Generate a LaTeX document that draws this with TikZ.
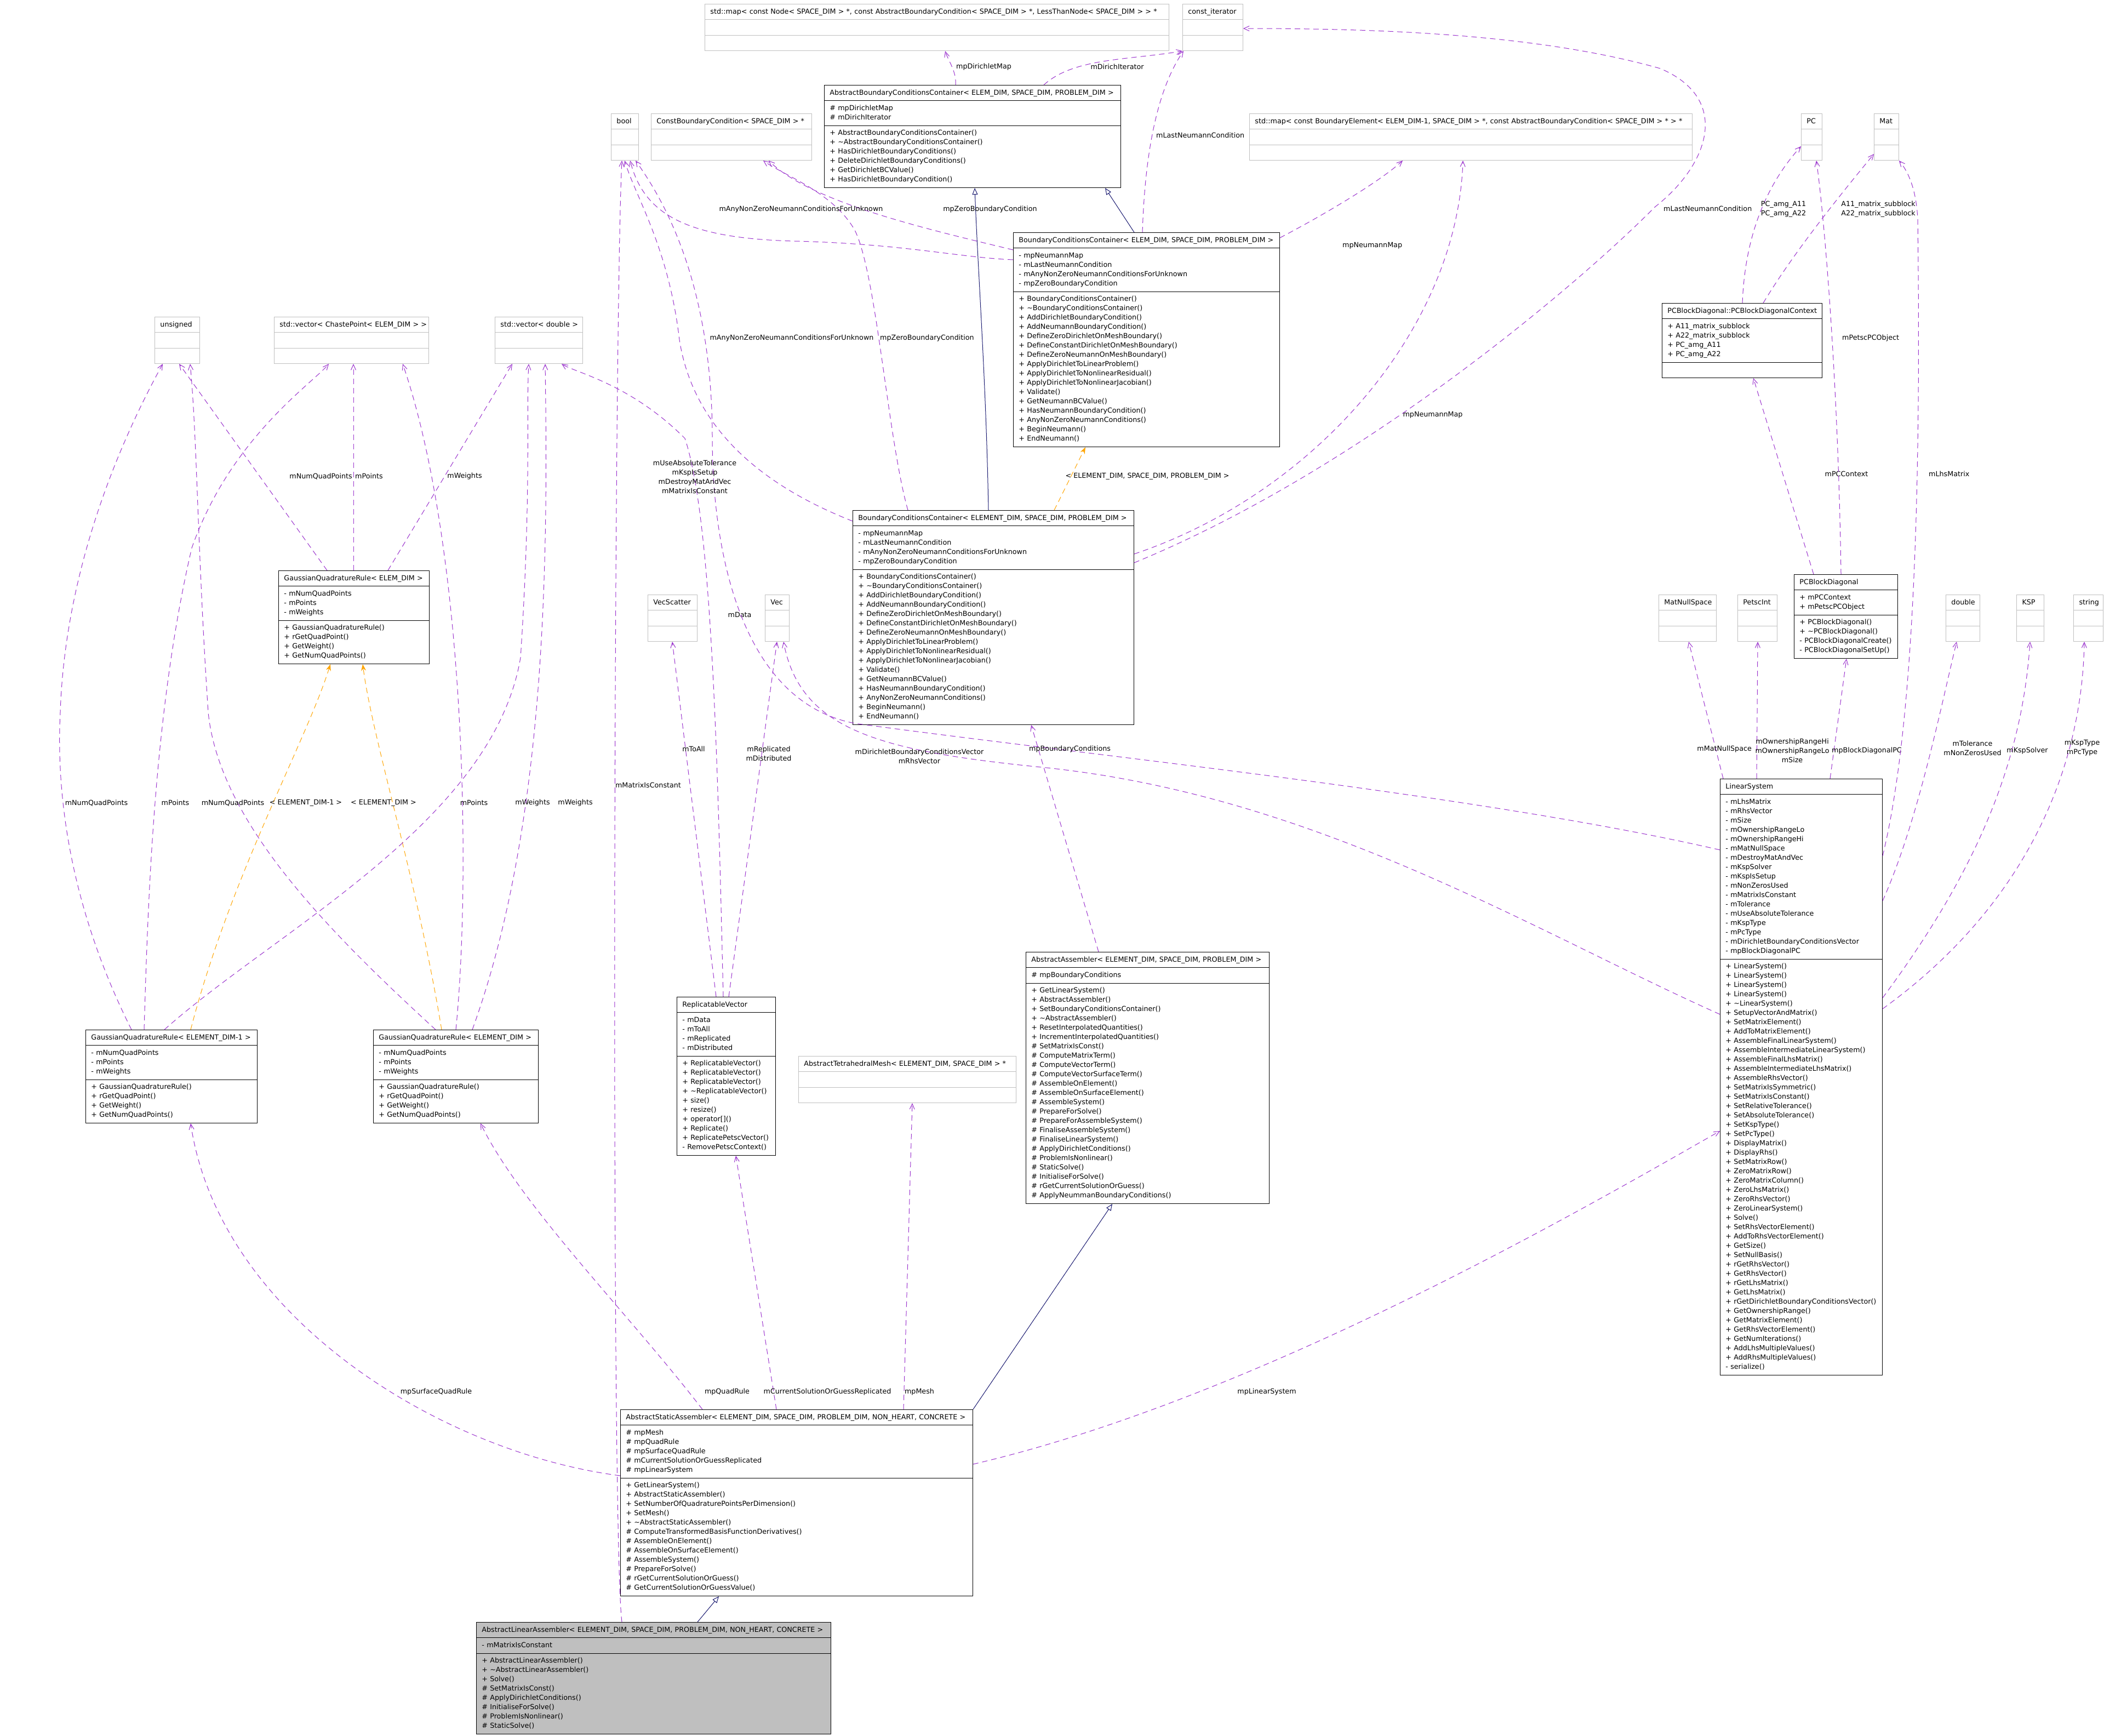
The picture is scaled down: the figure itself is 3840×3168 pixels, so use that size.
\documentclass[tikz,border=0pt]{standalone}
\usepackage{fontspec}
\setmainfont{DejaVu Sans}
\usetikzlibrary{shapes.multipart, arrows.meta, calc}
\definecolor{edgepurple}{HTML}{9A32CD}
\definecolor{inhblue}{HTML}{191970}
\definecolor{tmplorange}{HTML}{FFA500}
\definecolor{boxgray}{HTML}{BFBFBF}

\begin{document}
\begin{tikzpicture}[x=1pt, y=-1pt,
  cls/.style={rectangle split, rectangle split parts=3, draw, line width=0.9pt, fill=white,
    anchor=north west, inner xsep=10pt, inner ysep=5.25pt, align=left,
    font={\fontsize{12.7}{17}\selectfont}},
  ext/.style={cls, draw=boxgray},
  uses/.style={edgepurple, line width=1pt, dash pattern=on 10pt off 7pt,
    -{Straight Barb[length=10pt,width=9pt]}},
  inh/.style={inhblue, line width=1pt, -{Triangle[open,length=12pt,width=10pt]}},
  tmpl/.style={tmplorange, line width=1pt, dash pattern=on 10pt off 7pt,
    -{Stealth[length=12pt,width=9pt]}},
  lbl/.style={inner sep=0pt, align=center, font={\fontsize{12.7}{17}\selectfont}}]
\useasboundingbox (0,0) rectangle (3840,3168);
\fill[white] (0,0) rectangle (3840,3168);

% top row
\node[ext, text width=827pt] (stdmap) at (1286,7) {\centering\strut\mbox{std::map< const Node< SPACE\_DIM > *, const AbstractBoundaryCondition< SPACE\_DIM > *, LessThanNode< SPACE\_DIM > > *}\nodepart{two}\strut\nodepart{three}\strut};
\node[ext, text width=90pt] (constit) at (2158,7) {\centering\strut\mbox{const\_iterator}\nodepart{two}\strut\nodepart{three}\strut};
\node[cls, text width=521pt] (abcc) at (1504,155) {\centering\strut\mbox{AbstractBoundaryConditionsContainer< ELEM\_DIM, SPACE\_DIM, PROBLEM\_DIM >}
  \nodepart{two}\strut\# mpDirichletMap\\\# mDirichIterator\strut
  \nodepart{three}\strut+ AbstractBoundaryConditionsContainer()\\+ \textasciitilde AbstractBoundaryConditionsContainer()\\+ HasDirichletBoundaryConditions()\\+ DeleteDirichletBoundaryConditions()\\+ GetDirichletBCValue()\\+ HasDirichletBoundaryCondition()\strut};
\node[ext, text width=273pt] (constbc) at (1188,207) {\centering\strut\mbox{ConstBoundaryCondition< SPACE\_DIM > *}\nodepart{two}\strut\nodepart{three}\strut};
\node[ext, text width=30pt] (boolt) at (1115,207) {\centering\strut\mbox{bool}\nodepart{two}\strut\nodepart{three}\strut};
\node[ext, text width=788pt] (mapbe) at (2280,207) {\centering\strut\mbox{std::map< const BoundaryElement< ELEM\_DIM-1, SPACE\_DIM > *, const AbstractBoundaryCondition< SPACE\_DIM > * > *}\nodepart{two}\strut\nodepart{three}\strut};
\node[ext, text width=18pt] (pc) at (3287,207) {\centering\strut\mbox{PC}\nodepart{two}\strut\nodepart{three}\strut};
\node[ext, text width=25pt] (mat) at (3420,207) {\centering\strut\mbox{Mat}\nodepart{two}\strut\nodepart{three}\strut};

% boundary conditions containers
\node[cls, text width=466pt] (bcca) at (1849,424) {\centering\strut\mbox{BoundaryConditionsContainer< ELEM\_DIM, SPACE\_DIM, PROBLEM\_DIM >}
  \nodepart{two}\strut- mpNeumannMap\\- mLastNeumannCondition\\- mAnyNonZeroNeumannConditionsForUnknown\\- mpZeroBoundaryCondition\strut
  \nodepart{three}\strut+ BoundaryConditionsContainer()\\+ \textasciitilde BoundaryConditionsContainer()\\+ AddDirichletBoundaryCondition()\\+ AddNeumannBoundaryCondition()\\+ DefineZeroDirichletOnMeshBoundary()\\+ DefineConstantDirichletOnMeshBoundary()\\+ DefineZeroNeumannOnMeshBoundary()\\+ ApplyDirichletToLinearProblem()\\+ ApplyDirichletToNonlinearResidual()\\+ ApplyDirichletToNonlinearJacobian()\\+ Validate()\\+ GetNeumannBCValue()\\+ HasNeumannBoundaryCondition()\\+ AnyNonZeroNeumannConditions()\\+ BeginNeumann()\\+ EndNeumann()\strut};
\node[cls, text width=493pt] (bccb) at (1556,931) {\centering\strut\mbox{BoundaryConditionsContainer< ELEMENT\_DIM, SPACE\_DIM, PROBLEM\_DIM >}
  \nodepart{two}\strut- mpNeumannMap\\- mLastNeumannCondition\\- mAnyNonZeroNeumannConditionsForUnknown\\- mpZeroBoundaryCondition\strut
  \nodepart{three}\strut+ BoundaryConditionsContainer()\\+ \textasciitilde BoundaryConditionsContainer()\\+ AddDirichletBoundaryCondition()\\+ AddNeumannBoundaryCondition()\\+ DefineZeroDirichletOnMeshBoundary()\\+ DefineConstantDirichletOnMeshBoundary()\\+ DefineZeroNeumannOnMeshBoundary()\\+ ApplyDirichletToLinearProblem()\\+ ApplyDirichletToNonlinearResidual()\\+ ApplyDirichletToNonlinearJacobian()\\+ Validate()\\+ GetNeumannBCValue()\\+ HasNeumannBoundaryCondition()\\+ AnyNonZeroNeumannConditions()\\+ BeginNeumann()\\+ EndNeumann()\strut};

% PC block diagonal
\node[cls, text width=272pt] (pcctx) at (3033,553) {\centering\strut\mbox{PCBlockDiagonal::PCBlockDiagonalContext}
  \nodepart{two}\strut+ A11\_matrix\_subblock\\+ A22\_matrix\_subblock\\+ PC\_amg\_A11\\+ PC\_amg\_A22\strut
  \nodepart{three}\strut};
\node[cls, text width=169pt] (pcbd) at (3274,1048) {\centering\strut\mbox{PCBlockDiagonal}
  \nodepart{two}\strut+ mPCContext\\+ mPetscPCObject\strut
  \nodepart{three}\strut+ PCBlockDiagonal()\\+ \textasciitilde PCBlockDiagonal()\\- PCBlockDiagonalCreate()\\- PCBlockDiagonalSetUp()\strut};

% quadrature
\node[ext, text width=62pt] (unsig) at (282,578) {\centering\strut\mbox{unsigned}\nodepart{two}\strut\nodepart{three}\strut};
\node[ext, text width=262pt] (vchaste) at (500,578) {\centering\strut\mbox{std::vector< ChastePoint< ELEM\_DIM > >}\nodepart{two}\strut\nodepart{three}\strut};
\node[ext, text width=140pt] (vdouble) at (903,578) {\centering\strut\mbox{std::vector< double >}\nodepart{two}\strut\nodepart{three}\strut};
\node[cls, text width=255pt] (gqr) at (508,1041) {\centering\strut\mbox{GaussianQuadratureRule< ELEM\_DIM >}
  \nodepart{two}\strut- mNumQuadPoints\\- mPoints\\- mWeights\strut
  \nodepart{three}\strut+ GaussianQuadratureRule()\\+ rGetQuadPoint()\\+ GetWeight()\\+ GetNumQuadPoints()\strut};
\node[cls, text width=293pt] (gqrm1) at (156,1879) {\centering\strut\mbox{GaussianQuadratureRule< ELEMENT\_DIM-1 >}
  \nodepart{two}\strut- mNumQuadPoints\\- mPoints\\- mWeights\strut
  \nodepart{three}\strut+ GaussianQuadratureRule()\\+ rGetQuadPoint()\\+ GetWeight()\\+ GetNumQuadPoints()\strut};
\node[cls, text width=281pt] (gqred) at (681,1879) {\centering\strut\mbox{GaussianQuadratureRule< ELEMENT\_DIM >}
  \nodepart{two}\strut- mNumQuadPoints\\- mPoints\\- mWeights\strut
  \nodepart{three}\strut+ GaussianQuadratureRule()\\+ rGetQuadPoint()\\+ GetWeight()\\+ GetNumQuadPoints()\strut};

% petsc types
\node[ext, text width=70pt] (vecsc) at (1182,1085) {\centering\strut\mbox{VecScatter}\nodepart{two}\strut\nodepart{three}\strut};
\node[ext, text width=24pt] (vec) at (1396,1085) {\centering\strut\mbox{Vec}\nodepart{two}\strut\nodepart{three}\strut};
\node[ext, text width=85pt] (mns) at (3027,1085) {\centering\strut\mbox{MatNullSpace}\nodepart{two}\strut\nodepart{three}\strut};
\node[ext, text width=52pt] (pint) at (3171,1085) {\centering\strut\mbox{PetscInt}\nodepart{two}\strut\nodepart{three}\strut};
\node[ext, text width=42pt] (dbl) at (3551,1085) {\centering\strut\mbox{double}\nodepart{two}\strut\nodepart{three}\strut};
\node[ext, text width=30pt] (ksp) at (3680,1085) {\centering\strut\mbox{KSP}\nodepart{two}\strut\nodepart{three}\strut};
\node[ext, text width=34pt] (str) at (3784,1085) {\centering\strut\mbox{string}\nodepart{two}\strut\nodepart{three}\strut};

% linear system
\node[cls, text width=276pt] (linsys) at (3139,1421) {\centering\strut\mbox{LinearSystem}
  \nodepart{two}\strut- mLhsMatrix\\- mRhsVector\\- mSize\\- mOwnershipRangeLo\\- mOwnershipRangeHi\\- mMatNullSpace\\- mDestroyMatAndVec\\- mKspSolver\\- mKspIsSetup\\- mNonZerosUsed\\- mMatrixIsConstant\\- mTolerance\\- mUseAbsoluteTolerance\\- mKspType\\- mPcType\\- mDirichletBoundaryConditionsVector\\- mpBlockDiagonalPC\strut
  \nodepart{three}\strut+ LinearSystem()\\+ LinearSystem()\\+ LinearSystem()\\+ LinearSystem()\\+ \textasciitilde LinearSystem()\\+ SetupVectorAndMatrix()\\+ SetMatrixElement()\\+ AddToMatrixElement()\\+ AssembleFinalLinearSystem()\\+ AssembleIntermediateLinearSystem()\\+ AssembleFinalLhsMatrix()\\+ AssembleIntermediateLhsMatrix()\\+ AssembleRhsVector()\\+ SetMatrixIsSymmetric()\\+ SetMatrixIsConstant()\\+ SetRelativeTolerance()\\+ SetAbsoluteTolerance()\\+ SetKspType()\\+ SetPcType()\\+ DisplayMatrix()\\+ DisplayRhs()\\+ SetMatrixRow()\\+ ZeroMatrixRow()\\+ ZeroMatrixColumn()\\+ ZeroLhsMatrix()\\+ ZeroRhsVector()\\+ ZeroLinearSystem()\\+ Solve()\\+ SetRhsVectorElement()\\+ AddToRhsVectorElement()\\+ GetSize()\\+ SetNullBasis()\\+ rGetRhsVector()\\+ GetRhsVector()\\+ rGetLhsMatrix()\\+ GetLhsMatrix()\\+ rGetDirichletBoundaryConditionsVector()\\+ GetOwnershipRange()\\+ GetMatrixElement()\\+ GetRhsVectorElement()\\+ GetNumIterations()\\+ AddLhsMultipleValues()\\+ AddRhsMultipleValues()\\- serialize()\strut};

% assemblers
\node[cls, text width=424pt] (aasm) at (1872,1737) {\centering\strut\mbox{AbstractAssembler< ELEMENT\_DIM, SPACE\_DIM, PROBLEM\_DIM >}
  \nodepart{two}\strut\# mpBoundaryConditions\strut
  \nodepart{three}\strut+ GetLinearSystem()\\+ AbstractAssembler()\\+ SetBoundaryConditionsContainer()\\+ \textasciitilde AbstractAssembler()\\+ ResetInterpolatedQuantities()\\+ IncrementInterpolatedQuantities()\\\# SetMatrixIsConst()\\\# ComputeMatrixTerm()\\\# ComputeVectorTerm()\\\# ComputeVectorSurfaceTerm()\\\# AssembleOnElement()\\\# AssembleOnSurfaceElement()\\\# AssembleSystem()\\\# PrepareForSolve()\\\# PrepareForAssembleSystem()\\\# FinaliseAssembleSystem()\\\# FinaliseLinearSystem()\\\# ApplyDirichletConditions()\\\# ProblemIsNonlinear()\\\# StaticSolve()\\\# InitialiseForSolve()\\\# rGetCurrentSolutionOrGuess()\\\# ApplyNeummanBoundaryConditions()\strut};
\node[cls, text width=160pt] (repvec) at (1235,1819) {\centering\strut\mbox{ReplicatableVector}
  \nodepart{two}\strut- mData\\- mToAll\\- mReplicated\\- mDistributed\strut
  \nodepart{three}\strut+ ReplicatableVector()\\+ ReplicatableVector()\\+ ReplicatableVector()\\+ \textasciitilde ReplicatableVector()\\+ size()\\+ resize()\\+ operator[]()\\+ Replicate()\\+ ReplicatePetscVector()\\- RemovePetscContext()\strut};
\node[ext, text width=377pt] (mesh) at (1457,1927) {\centering\strut\mbox{AbstractTetrahedralMesh< ELEMENT\_DIM, SPACE\_DIM > *}\nodepart{two}\strut\nodepart{three}\strut};
\node[cls, text width=623pt] (asasm) at (1132,2572) {\centering\strut\mbox{AbstractStaticAssembler< ELEMENT\_DIM, SPACE\_DIM, PROBLEM\_DIM, NON\_HEART, CONCRETE >}
  \nodepart{two}\strut\# mpMesh\\\# mpQuadRule\\\# mpSurfaceQuadRule\\\# mCurrentSolutionOrGuessReplicated\\\# mpLinearSystem\strut
  \nodepart{three}\strut+ GetLinearSystem()\\+ AbstractStaticAssembler()\\+ SetNumberOfQuadraturePointsPerDimension()\\+ SetMesh()\\+ \textasciitilde AbstractStaticAssembler()\\\# ComputeTransformedBasisFunctionDerivatives()\\\# AssembleOnElement()\\\# AssembleOnSurfaceElement()\\\# AssembleSystem()\\\# PrepareForSolve()\\\# rGetCurrentSolutionOrGuess()\\\# GetCurrentSolutionOrGuessValue()\strut};
\node[cls, fill=boxgray, text width=627pt] (lasm) at (869,2960) {\centering\strut\mbox{AbstractLinearAssembler< ELEMENT\_DIM, SPACE\_DIM, PROBLEM\_DIM, NON\_HEART, CONCRETE >}
  \nodepart{two}\strut- mMatrixIsConstant\strut
  \nodepart{three}\strut+ AbstractLinearAssembler()\\+ \textasciitilde AbstractLinearAssembler()\\+ Solve()\\\# SetMatrixIsConst()\\\# ApplyDirichletConditions()\\\# InitialiseForSolve()\\\# ProblemIsNonlinear()\\\# StaticSolve()\strut};

% inheritance
\draw[inh] ($(bcca.north west)+(221,0)$) -- ($(abcc.south west)+(513,0)$);
\draw[inh] ($(bccb.north west)+(248,0)$) .. controls (1800,700) and (1785,500) .. ($(abcc.south west)+(275,0)$);
\draw[inh] (asasm.north east) -- ($(aasm.south west)+(158,0)$);
\draw[inh] ($(lasm.north west)+(404,0)$) -- ($(asasm.south west)+(180,0)$);

% template instances
\draw[tmpl] ($(bccb.north west)+(368,0)$) -- ($(bcca.south west)+(132,0)$);
\node[lbl] (lab-bcct) at (2094,869) {< ELEMENT\_DIM, SPACE\_DIM, PROBLEM\_DIM >};
\draw[tmpl] ($(gqrm1.north west)+(192,0)$) .. controls (420,1600) and (560,1350) .. ($(gqr.south west)+(95,0)$);
\node[lbl] (lab-gm1) at (558,1465) {< ELEMENT\_DIM-1 >};
\draw[tmpl] ($(gqred.north west)+(125,0)$) .. controls (760,1600) and (680,1350) .. ($(gqr.south west)+(154,0)$);
\node[lbl] (lab-ged) at (700,1465) {< ELEMENT\_DIM >};

% boundary condition members
\draw[uses] ($(abcc.north west)+(240,0)$) .. controls (1746,130) and (1730,110) .. ($(stdmap.south west)+(439,0)$);
\node[lbl, anchor=west] (lab-dmap) at (1745,122) {mpDirichletMap};
\draw[uses] ($(abcc.north west)+(401,0)$) .. controls (1960,105) and (2060,110) .. (constit.south west);
\node[lbl] (lab-dit) at (2039,122) {mDirichIterator};
\draw[uses] ($(bcca.north west)+(236,0)$) .. controls (2088,330) and (2100,180) .. ($(constit.south west)+(2,0)$);
\node[lbl, anchor=west] (lab-lnc1) at (2110,247) {mLastNeumannCondition};
\draw[uses] ($(bccb.north east)+(0,96)$) .. controls (2500,850) and (2900,500) .. (3020,378)
  .. controls (3120,300) and (3160,180) .. (3030,125) .. controls (2800,60) and (2500,52) .. ($(constit.north east)+(0,45)$);
\node[lbl, anchor=west] (lab-lnc2) at (3036,381) {mLastNeumannCondition};
\draw[uses] ($(bcca.north east)+(0,10)$) .. controls (2420,390) and (2520,330) .. ($(mapbe.south west)+(280,0)$);
\node[lbl, anchor=west] (lab-nmap1) at (2450,448) {mpNeumannMap};
\draw[uses] ($(bccb.north east)+(0,80)$) .. controls (2400,900) and (2660,600) .. ($(mapbe.south west)+(390,0)$);
\node[lbl] (lab-nmap2) at (2615,757) {mpNeumannMap};
\draw[uses] ($(bcca.north west)+(0,32)$) .. controls (1700,420) and (1480,370) .. ($(constbc.south west)+(215,0)$);
\node[lbl] (lab-zbc1) at (1807,382) {mpZeroBoundaryCondition};
\draw[uses] ($(bccb.north west)+(101,0)$) .. controls (1620,800) and (1600,500) .. (1560,420)
  .. controls (1520,350) and (1430,320) .. ($(constbc.south west)+(205,0)$);
\node[lbl, anchor=west] (lab-zbc2) at (1606,617) {mpZeroBoundaryCondition};
\draw[uses] ($(bcca.north west)+(0,50)$) .. controls (1750,470) and (1650,445) .. (1450,440)
  .. controls (1250,435) and (1175,390) .. ($(boolt.south west)+(35,0)$);
\node[lbl] (lab-anz1) at (1462,382) {mAnyNonZeroNeumannConditionsForUnknown};
\draw[uses] ($(bccb.north west)+(0,20)$) .. controls (1350,870) and (1260,750) .. (1240,620)
  .. controls (1220,450) and (1160,360) .. ($(boolt.south west)+(25,0)$);
\node[lbl] (lab-anz2) at (1445,617) {mAnyNonZeroNeumannConditionsForUnknown};

% quadrature members
\draw[uses] ($(gqr.north west)+(89,0)$) -- ($(unsig.south west)+(45,0)$);
\node[lbl, anchor=east] (lab-nq0) at (643,869) {mNumQuadPoints};
\draw[uses] ($(gqr.north west)+(137,0)$) -- ($(vchaste.south west)+(145,0)$);
\node[lbl, anchor=west] (lab-pt0) at (648,869) {mPoints};
\draw[uses] ($(gqr.north west)+(200,0)$) -- ($(vdouble.south west)+(32,0)$);
\node[lbl] (lab-wt0) at (848,869) {mWeights};
\draw[uses] ($(gqrm1.north west)+(84,0)$) .. controls (150,1700) and (100,1500) .. (110,1300)
  .. controls (120,1000) and (250,750) .. ($(unsig.south west)+(15,0)$);
\node[lbl] (lab-nq1) at (176,1465) {mNumQuadPoints};
\draw[uses] ($(gqrm1.north west)+(107,0)$) .. controls (270,1650) and (280,1300) .. (350,1000)
  .. controls (420,800) and (570,700) .. ($(vchaste.south west)+(100,0)$);
\node[lbl] (lab-pt1) at (320,1465) {mPoints};
\draw[uses] ($(gqrm1.north west)+(144,0)$) .. controls (500,1700) and (900,1500) .. (950,1200)
  .. controls (970,900) and (960,750) .. ($(vdouble.south west)+(62,0)$);
\node[lbl] (lab-wt1) at (972,1465) {mWeights};
\draw[uses] ($(gqred.north west)+(114,0)$) .. controls (600,1700) and (400,1500) .. (380,1300)
  .. controls (360,1000) and (360,800) .. ($(unsig.south west)+(65,0)$);
\node[lbl] (lab-nq2) at (425,1465) {mNumQuadPoints};
\draw[uses] ($(gqred.north west)+(151,0)$) .. controls (860,1600) and (850,1000) .. ($(vchaste.south west)+(235,0)$);
\node[lbl] (lab-pt2) at (865,1465) {mPoints};
\draw[uses] ($(gqred.north west)+(181,0)$) .. controls (1000,1500) and (1000,1000) .. ($(vdouble.south west)+(92,0)$);
\node[lbl] (lab-wt2) at (1050,1465) {mWeights};

% replicatable vector members
\draw[uses] ($(repvec.north west)+(72,0)$) -- ($(vecsc.south west)+(45,0)$);
\node[lbl] (lab-toall) at (1266,1367) {mToAll};
\draw[uses] ($(repvec.north west)+(95,0)$) -- ($(vec.south west)+(22,0)$);
\node[lbl] (lab-repl) at (1403,1375) {mReplicated\\mDistributed};
\draw[uses] ($(repvec.north west)+(85,0)$) .. controls (1310,1400) and (1300,950) .. (1250,800)
  .. controls (1150,700) and (1050,680) .. ($(vdouble.south west)+(122,0)$);
\node[lbl] (lab-data) at (1350,1122) {mData};

% linear system members
\draw[uses] ($(linsys.north west)+(0,430)$) .. controls (2800,1700) and (2400,1450) .. (1900,1400)
  .. controls (1600,1370) and (1460,1330) .. ($(vec.south west)+(34,0)$);
\node[lbl] (lab-rhs) at (1678,1380) {mDirichletBoundaryConditionsVector\\mRhsVector};
\draw[uses] ($(linsys.north west)+(0,130)$) .. controls (2700,1450) and (2000,1380) .. (1560,1320)
  .. controls (1350,1280) and (1300,1000) .. (1300,800) .. controls (1300,500) and (1200,350) .. ($(boolt.south west)+(45,0)$);
\node[lbl] (lab-lsbool) at (1268,870) {mUseAbsoluteTolerance\\mKspIsSetup\\mDestroyMatAndVec\\mMatrixIsConstant};
\draw[uses] ($(lasm.north west)+(266,0)$) .. controls (1115,2800) and (1120,600) .. ($(boolt.south west)+(20,0)$);
\node[lbl] (lab-mic) at (1183,1433) {mMatrixIsConstant};
\draw[uses] ($(linsys.north west)+(6,0)$) -- ($(mns.south west)+(55,0)$);
\node[lbl, anchor=east] (lab-mns) at (3197,1367) {mMatNullSpace};
\draw[uses] ($(linsys.north west)+(67,0)$) -- ($(pint.south west)+(37,0)$);
\node[lbl] (lab-own) at (3271,1370) {mOwnershipRangeHi\\mOwnershipRangeLo\\mSize};
\draw[uses] ($(linsys.north west)+(201,0)$) -- ($(pcbd.south west)+(96,0)$);
\node[lbl, anchor=west] (lab-bdpc) at (3343,1370) {mpBlockDiagonalPC};
\draw[uses] ($(linsys.north east)+(0,223)$) .. controls (3500,1500) and (3540,1300) .. ($(dbl.south west)+(20,0)$);
\node[lbl] (lab-tol) at (3600,1365) {mTolerance\\mNonZerosUsed};
\draw[uses] ($(linsys.north east)+(0,400)$) .. controls (3600,1600) and (3690,1400) .. ($(ksp.south west)+(25,0)$);
\node[lbl] (lab-ksp) at (3700,1370) {mKspSolver};
\draw[uses] ($(linsys.north east)+(0,420)$) .. controls (3700,1650) and (3800,1400) .. ($(str.south west)+(20,0)$);
\node[lbl] (lab-type) at (3800,1365) {mKspType\\mPcType};
\draw[uses] ($(linsys.north east)+(0,141)$) .. controls (3500,1300) and (3505,800) .. (3500,400)
  .. controls (3497,340) and (3480,310) .. (mat.south east);
\node[lbl, anchor=west] (lab-lhs) at (3520,865) {mLhsMatrix};

% block diagonal preconditioner members
\draw[uses] ($(pcbd.north west)+(36,0)$) -- ($(pcctx.south west)+(167,0)$);
\node[lbl] (lab-ctx) at (3370,865) {mPCContext};
\draw[uses] ($(pcbd.north west)+(86,0)$) .. controls (3355,700) and (3330,400) .. ($(pc.south west)+(28,0)$);
\node[lbl, anchor=west] (lab-pcobj) at (3362,617) {mPetscPCObject};
\draw[uses] ($(pcctx.north west)+(147,0)$) .. controls (3185,420) and (3230,330) .. ($(pc.north west)+(0,60)$);
\node[lbl] (lab-amg) at (3255,382) {PC\_amg\_A11\\PC\_amg\_A22};
\draw[uses] ($(pcctx.north west)+(185,0)$) .. controls (3280,450) and (3380,330) .. ($(mat.north west)+(0,74)$);
\node[lbl] (lab-sub) at (3428,382) {A11\_matrix\_subblock\\A22\_matrix\_subblock};

% assembler members
\draw[uses] ($(aasm.north west)+(133,0)$) -- ($(bccb.south west)+(326,0)$);
\node[lbl, anchor=west] (lab-bcs) at (1878,1367) {mpBoundaryConditions};
\draw[uses] ($(asasm.north west)+(0,121)$) .. controls (800,2650) and (400,2400) .. ($(gqrm1.south west)+(192,0)$);
\node[lbl] (lab-sqr) at (796,2540) {mpSurfaceQuadRule};
\draw[uses] ($(asasm.north west)+(150,0)$) .. controls (1150,2400) and (950,2200) .. ($(gqred.south west)+(196,0)$);
\node[lbl] (lab-qr) at (1327,2540) {mpQuadRule};
\draw[uses] ($(asasm.north west)+(285,0)$) -- ($(repvec.south west)+(108,0)$);
\node[lbl] (lab-cur) at (1510,2540) {mCurrentSolutionOrGuessReplicated};
\draw[uses] ($(asasm.north west)+(517,0)$) -- ($(mesh.south west)+(208,0)$);
\node[lbl] (lab-mesh) at (1678,2540) {mpMesh};
\draw[uses] ($(asasm.north east)+(0,100)$) .. controls (2300,2550) and (2900,2200) .. ($(linsys.north west)+(0,643)$);
\node[lbl] (lab-ls) at (2312,2540) {mpLinearSystem};
\end{tikzpicture}
\end{document}
